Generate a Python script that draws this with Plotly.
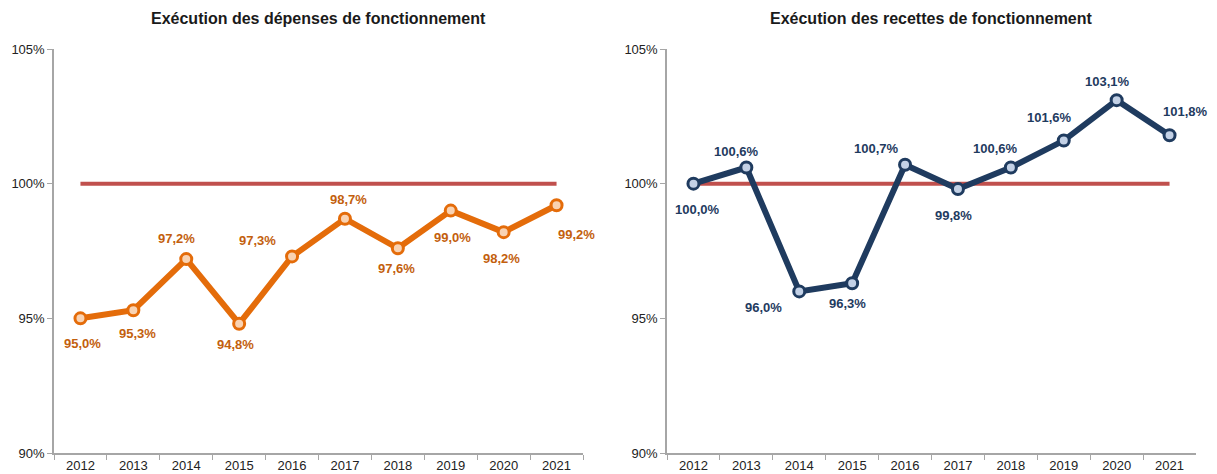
import plotly.graph_objects as go

years = ["2012", "2013", "2014", "2015", "2016", "2017", "2018", "2019", "2020", "2021"]
depenses = [95.0, 95.3, 97.2, 94.8, 97.3, 98.7, 97.6, 99.0, 98.2, 99.2]
recettes = [100.0, 100.6, 96.0, 96.3, 100.7, 99.8, 100.6, 101.6, 103.1, 101.8]
reference = [100, 100, 100, 100, 100, 100, 100, 100, 100, 100]
y_ticks = [90, 95, 100, 105]
y_tick_labels = ["90%", "95%", "100%", "105%"]
title_left = "Exécution des dépenses de fonctionnement"
title_right = "Exécution des recettes de fonctionnement"

# label offsets (pixels) per point
dep_shift = [(2, -25), (4, -23), (-10, 21), (-4, -21), (-35, 16), (4, 19), (-1, -20), (2, -27), (-2, -26), (20, -29)]
rec_shift = [(4, -26), (-10, 16), (-36, -16), (-5, -20), (-29, 16), (-4, -26), (-15, 19), (-14, 23), (-9, 19), (16, 24)]

ORANGE = "#E46C0A"
ORANGE_TXT = "#C3600D"
NAVY = "#1F3B5F"
RED = "#C0504D"
FONT = "Liberation Sans, Arial"

# page body has an 8px margin: positions below are in figure pixels (reference minus 8)
W, H = 1209, 466
OFF = 8
L1, R1 = 54 - OFF, 583 - OFF
L2, R2 = 667 - OFF, 1196 - OFF
TOP, BOT = 49 - OFF, 453 - OFF

fig = go.Figure()

fig.add_trace(go.Scatter(x=years, y=reference, mode="lines", line=dict(color=RED, width=4),
                         xaxis="x", yaxis="y", hoverinfo="skip", showlegend=False))
fig.add_trace(go.Scatter(x=years, y=depenses, mode="lines+markers",
                         line=dict(color=ORANGE, width=6),
                         marker=dict(size=11, color="#F9D3B3", line=dict(color=ORANGE, width=3)),
                         xaxis="x", yaxis="y", showlegend=False))

fig.add_trace(go.Scatter(x=years, y=reference, mode="lines", line=dict(color=RED, width=4),
                         xaxis="x2", yaxis="y2", hoverinfo="skip", showlegend=False))
fig.add_trace(go.Scatter(x=years, y=recettes, mode="lines+markers",
                         line=dict(color=NAVY, width=6),
                         marker=dict(size=11, color="#C3D1E6", line=dict(color=NAVY, width=3)),
                         xaxis="x2", yaxis="y2", showlegend=False))


def fmt(v):
    return f"{v:.1f}".replace(".", ",") + "%"


annotations = []
for i, (v, (dx, dy)) in enumerate(zip(depenses, dep_shift)):
    annotations.append(dict(x=i, y=v, xref="x", yref="y", text="<b>" + fmt(v) + "</b>", showarrow=False,
                            xshift=dx, yshift=dy,
                            font=dict(family=FONT, size=13, color=ORANGE_TXT)))
for i, (v, (dx, dy)) in enumerate(zip(recettes, rec_shift)):
    annotations.append(dict(x=i, y=v, xref="x2", yref="y2", text="<b>" + fmt(v) + "</b>", showarrow=False,
                            xshift=dx, yshift=dy,
                            font=dict(family=FONT, size=13, color=NAVY)))

ph = BOT - TOP
for title, (l, r) in ((title_left, (L1, R1)), (title_right, (L2, R2))):
    annotations.append(dict(x=(l + r) / 2 / W, y=1 + (TOP - (19 - OFF)) / ph, xref="paper", yref="paper",
                            xanchor="center", yanchor="middle",
                            text="<b>" + title + "</b>", showarrow=False,
                            font=dict(family=FONT, size=16, color="#1a1a1a")))

xaxis_common = dict(type="category", range=[-0.5, 9.5], showline=True, linecolor="#A6A6A6", linewidth=1.5,
                    ticks="outside", tickson="boundaries", ticklen=5, tickcolor="#A6A6A6",
                    showgrid=False, zeroline=False,
                    tickfont=dict(family=FONT, size=13, color="#222"), fixedrange=True)
yaxis_common = dict(range=[90, 105], tickvals=y_ticks, ticktext=y_tick_labels, showline=True,
                    linecolor="#A6A6A6", linewidth=1.5, ticks="outside", ticklen=5, tickcolor="#A6A6A6",
                    showgrid=False, zeroline=False,
                    tickfont=dict(family=FONT, size=13, color="#222"))

fig.update_layout(
    width=W, height=H,
    margin=dict(l=0, r=0, t=TOP, b=H - BOT),
    paper_bgcolor="white", plot_bgcolor="white",
    xaxis=dict(domain=[L1 / W, R1 / W], anchor="y", **xaxis_common),
    yaxis=dict(domain=[0, 1], anchor="x", **yaxis_common),
    xaxis2=dict(domain=[L2 / W, R2 / W], anchor="y2", **xaxis_common),
    yaxis2=dict(domain=[0, 1], anchor="x2", **yaxis_common),
    annotations=annotations,
)

fig.write_html("out.html")
